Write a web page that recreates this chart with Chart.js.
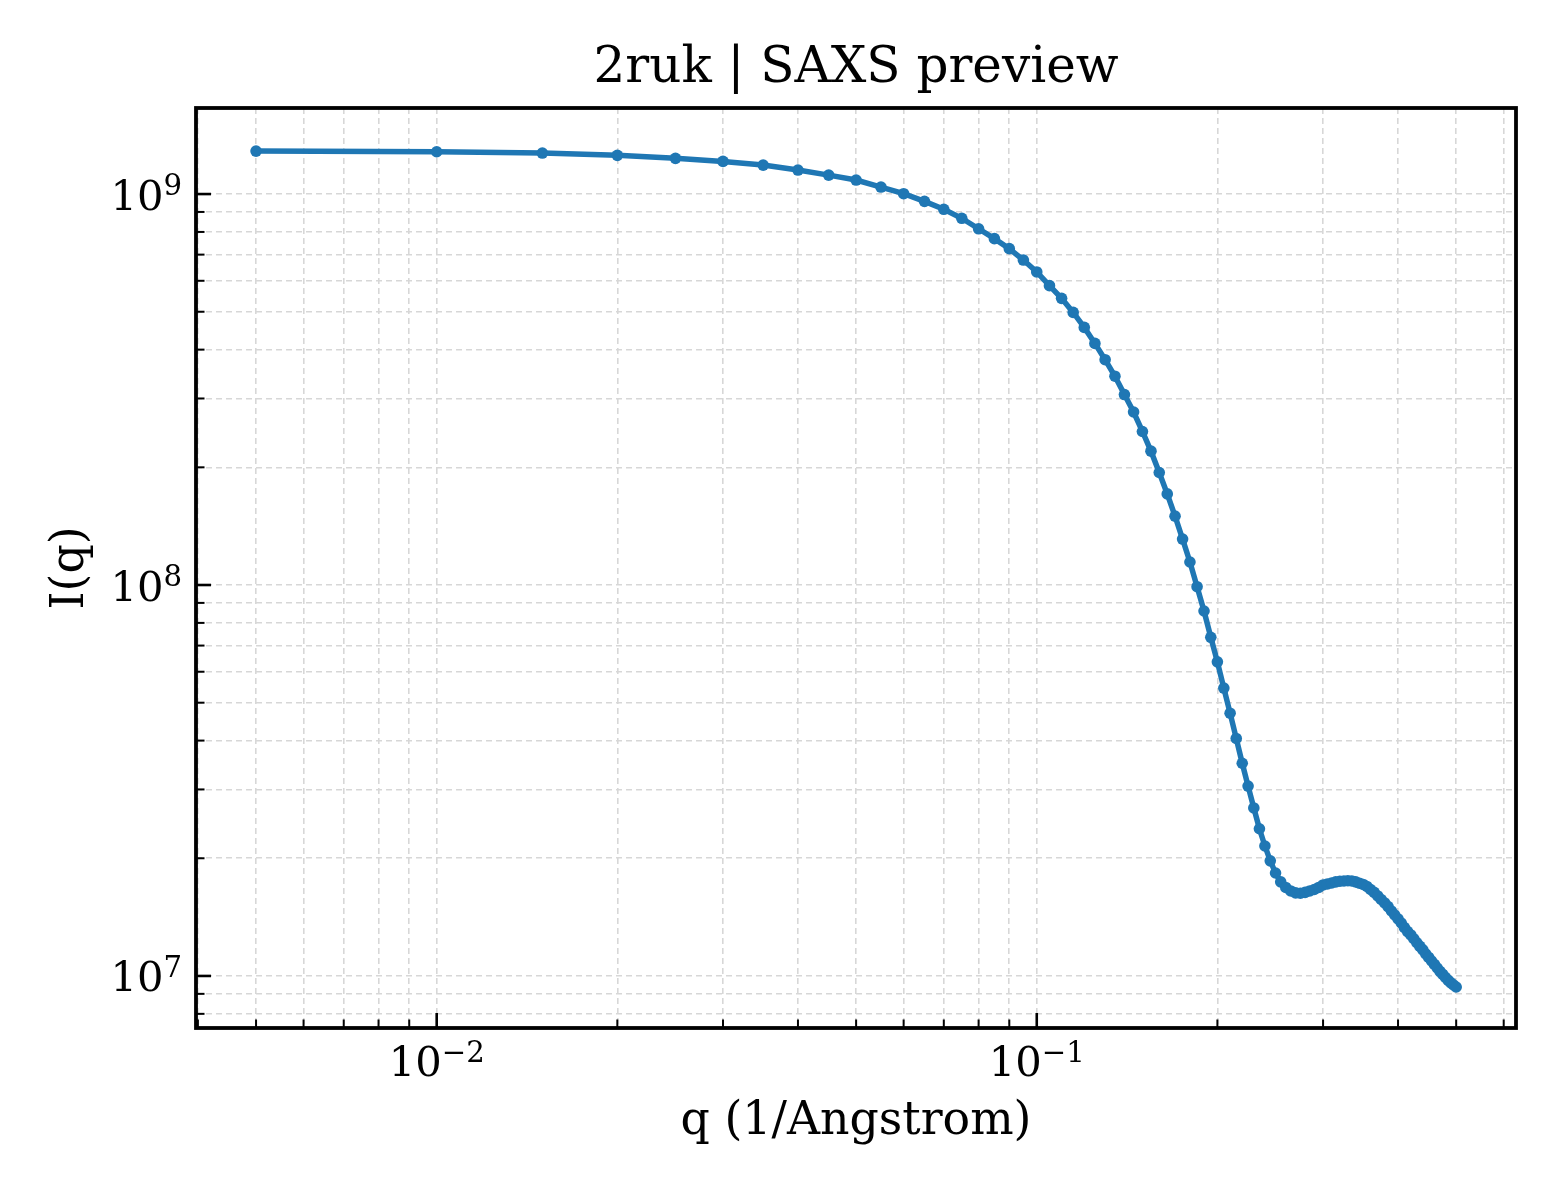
<!DOCTYPE html>
<html>
<head>
<meta charset="utf-8">
<script src="https://cdn.jsdelivr.net/npm/chart.js@4.4.1/dist/chart.umd.min.js"></script>
<style>
  html, body { margin: 0; padding: 0; background: #fff; }
  #wrap { width: 1560px; height: 1200px; }
</style>
</head>
<body>
<div id="wrap"><canvas id="saxs" width="1560" height="1200"></canvas></div>
<script>
// q values (1/Angstrom)
const qValues = [
  0.005, 0.010, 0.015, 0.020, 0.025, 0.030, 0.035, 0.040, 0.045, 0.050,
  0.055, 0.060, 0.065, 0.070, 0.075, 0.080, 0.085, 0.090, 0.095, 0.100,
  0.105, 0.110, 0.115, 0.120, 0.125, 0.130, 0.135, 0.140, 0.145, 0.150,
  0.155, 0.160, 0.165, 0.170, 0.175, 0.180, 0.185, 0.190, 0.195, 0.200,
  0.205, 0.210, 0.215, 0.220, 0.225, 0.230, 0.235, 0.240, 0.245, 0.250,
  0.255, 0.260, 0.265, 0.270, 0.275, 0.280, 0.285, 0.290, 0.295, 0.300,
  0.305, 0.310, 0.315, 0.320, 0.325, 0.330, 0.335, 0.340, 0.345, 0.350,
  0.355, 0.360, 0.365, 0.370, 0.375, 0.380, 0.385, 0.390, 0.395, 0.400,
  0.405, 0.410, 0.415, 0.420, 0.425, 0.430, 0.435, 0.440, 0.445, 0.450,
  0.455, 0.460, 0.465, 0.470, 0.475, 0.480, 0.485, 0.490, 0.495, 0.500
];

// I(q)
const intensity = [
  1.288e9, 1.283e9, 1.273e9, 1.256e9, 1.234e9, 1.212e9, 1.186e9, 1.152e9, 1.118e9, 1.086e9,
  1.042e9, 1.002e9, 9.58e8, 9.14e8, 8.67e8, 8.15e8, 7.69e8, 7.25e8, 6.78e8, 6.32e8,
  5.83e8, 5.41e8, 4.98e8, 4.56e8, 4.15e8, 3.77e8, 3.42e8, 3.07e8, 2.77e8, 2.47e8,
  2.20e8, 1.94e8, 1.71e8, 1.50e8, 1.311e8, 1.145e8, 9.90e7, 8.58e7, 7.35e7, 6.36e7,
  5.45e7, 4.70e7, 4.05e7, 3.50e7, 3.06e7, 2.69e7, 2.38e7, 2.15e7, 1.97e7, 1.834e7,
  1.740e7, 1.684e7, 1.650e7, 1.631e7, 1.628e7, 1.636e7, 1.650e7, 1.664e7, 1.684e7, 1.709e7,
  1.719e7, 1.729e7, 1.740e7, 1.747e7, 1.750e7, 1.752e7, 1.750e7, 1.740e7, 1.727e7, 1.714e7,
  1.694e7, 1.664e7, 1.636e7, 1.602e7, 1.569e7, 1.537e7, 1.505e7, 1.466e7, 1.432e7, 1.399e7,
  1.366e7, 1.330e7, 1.299e7, 1.273e7, 1.245e7, 1.216e7, 1.190e7, 1.166e7, 1.138e7, 1.115e7,
  1.092e7, 1.070e7, 1.048e7, 1.027e7, 1.009e7, 9.91e6, 9.74e6, 9.60e6, 9.48e6, 9.37e6
];

// axis ticks; labels are 10 with the exponent as superscript
const xMajorTicks = [0.01, 0.1];
const xTickExponents = ['\u22122', '\u22121'];
const xMinorTicks = [0.004, 0.005, 0.006, 0.007, 0.008, 0.009,
  0.02, 0.03, 0.04, 0.05, 0.06, 0.07, 0.08, 0.09,
  0.2, 0.3, 0.4, 0.5, 0.6];
const yMajorTicks = [1e7, 1e8, 1e9];
const yTickExponents = ['7', '8', '9'];
const yMinorTicks = [8e6, 9e6,
  2e7, 3e7, 4e7, 5e7, 6e7, 7e7, 8e7, 9e7,
  2e8, 3e8, 4e8, 5e8, 6e8, 7e8, 8e8, 9e8];

const FONT = "'DejaVu Serif', 'Liberation Serif', serif";
const TICK_SIZE = 41.7;
const SUP_SIZE = 29.2;
const gridColor = '#d7d7d7';

function buildTicks(major, minor) {
  return major.map(v => ({ value: v, major: true }))
    .concat(minor.map(v => ({ value: v, major: false })))
    .sort((a, b) => a.value - b.value);
}

// "10" + raised exponent, anchored at (x, baseline)
function drawPower(ctx, exp, x, baseline, align) {
  ctx.font = `${TICK_SIZE}px ${FONT}`;
  const wBase = ctx.measureText('10').width;
  ctx.font = `${SUP_SIZE}px ${FONT}`;
  const wExp = ctx.measureText(exp).width;
  const total = wBase + wExp;
  const left = align === 'center' ? x - total / 2 : x - total;
  ctx.textAlign = 'left';
  ctx.textBaseline = 'alphabetic';
  ctx.font = `${TICK_SIZE}px ${FONT}`;
  ctx.fillText('10', left, baseline);
  ctx.font = `${SUP_SIZE}px ${FONT}`;
  ctx.fillText(exp, left + wBase, baseline - 14.5);
}

// inward tick marks on bottom and left, tick labels, full frame box
const frameAndTicks = {
  id: 'frameAndTicks',
  afterDraw(chart) {
    const { ctx, chartArea: a, scales: { x, y } } = chart;
    ctx.save();
    ctx.strokeStyle = '#000';
    x.ticks.forEach(t => {
      const px = x.getPixelForValue(t.value);
      if (px < a.left + 1 || px > a.right - 1) return;
      ctx.lineWidth = t.major ? 2.6 : 2.0;
      ctx.beginPath();
      ctx.moveTo(px, a.bottom);
      ctx.lineTo(px, a.bottom - (t.major ? 15 : 8.5));
      ctx.stroke();
    });
    y.ticks.forEach(t => {
      const py = y.getPixelForValue(t.value);
      if (py < a.top + 1 || py > a.bottom - 1) return;
      ctx.lineWidth = t.major ? 2.6 : 2.0;
      ctx.beginPath();
      ctx.moveTo(a.left, py);
      ctx.lineTo(a.left + (t.major ? 15 : 8.5), py);
      ctx.stroke();
    });
    ctx.lineWidth = 3.8;
    ctx.strokeRect(a.left, a.top, a.right - a.left, a.bottom - a.top);

    ctx.fillStyle = '#000';
    xMajorTicks.forEach((v, i) => {
      drawPower(ctx, xTickExponents[i], x.getPixelForValue(v), a.bottom + 48, 'center');
    });
    yMajorTicks.forEach((v, i) => {
      drawPower(ctx, yTickExponents[i], a.left - 14, y.getPixelForValue(v) + 15.5, 'right');
    });
    ctx.restore();
  }
};

const points = qValues.map((q, i) => ({ x: q, y: intensity[i] }));

new Chart(document.getElementById('saxs'), {
  type: 'line',
  data: {
    datasets: [{
      data: points,
      borderColor: '#1f77b4',
      backgroundColor: '#1f77b4',
      borderWidth: 5.5,
      pointRadius: 5.8,
      pointBorderWidth: 0,
      pointBackgroundColor: '#1f77b4',
      tension: 0,
      fill: false
    }]
  },
  options: {
    responsive: false,
    devicePixelRatio: 1,
    animation: false,
    events: [],
    layout: { padding: { left: 0, right: 44, top: 0, bottom: 0 } },
    plugins: {
      legend: { display: false },
      tooltip: { enabled: false },
      title: {
        display: true,
        fullSize: false,
        text: '2ruk | SAXS preview',
        color: '#000',
        font: { family: FONT, size: 50, weight: 'normal', lineHeight: 1.2 },
        padding: { top: 39, bottom: 9 }
      }
    },
    scales: {
      x: {
        type: 'logarithmic',
        min: 0.003971,
        max: 0.6290,
        afterBuildTicks: s => { s.ticks = buildTicks(xMajorTicks, xMinorTicks); },
        afterFit: s => { s.height = 172; },
        grid: { color: gridColor, lineWidth: 1.6, drawTicks: false },
        border: { display: false, dash: [6, 4] },
        ticks: { display: false },
        title: {
          display: true,
          text: 'q (1/Angstrom)',
          color: '#000',
          font: { family: FONT, size: 45.8 },
          padding: { top: 0, bottom: 50 }
        }
      },
      y: {
        type: 'logarithmic',
        min: 7.36e6,
        max: 1.660e9,
        afterBuildTicks: s => { s.ticks = buildTicks(yMajorTicks, yMinorTicks); },
        afterFit: s => { s.width = 196; },
        grid: { color: gridColor, lineWidth: 1.6, drawTicks: false },
        border: { display: false, dash: [6, 4] },
        ticks: { display: false },
        title: {
          display: true,
          text: 'I(q)',
          color: '#000',
          font: { family: FONT, size: 45.8 },
          padding: { top: 44, bottom: 0 }
        }
      }
    }
  },
  plugins: [frameAndTicks]
});
</script>
</body>
</html>
